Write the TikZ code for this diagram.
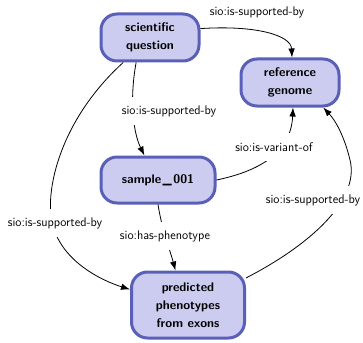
\documentclass[tikz,border=0pt]{standalone}
\usepackage{fontspec}
\usetikzlibrary{arrows.meta}
\definecolor{entline}{RGB}{90,95,184}
\definecolor{entfill}{RGB}{204,204,240}
\begin{document}
\begin{tikzpicture}[x=1pt, y=-1pt,
    ent/.style={draw=entline, fill=entfill, line width=3pt, rounded corners=16pt,
                font=\fontsize{12.5}{18}\selectfont\sffamily\bfseries, align=center},
    rel/.style={fill=white, font=\fontsize{12.5}{15}\selectfont\sffamily,
                minimum height=28pt, inner xsep=2pt},
    >={Latex[length=9pt, width=6.5pt]}]
      \useasboundingbox (0, 0) rectangle (363, 342);
      \draw (150, 37.5) node (sq) [ent, minimum width=98pt, minimum height=47pt] {scientific\\question}
            (290, 82.5) node (rg) [ent, minimum width=98pt, minimum height=47pt] {reference\\genome}
            (158, 180) node (samp) [ent, minimum width=114pt, minimum height=46pt] {sample\kern1.5pt\_\kern1.5pt001}
            (188, 305) node (pred) [ent, minimum width=113pt, minimum height=66pt] {predicted\\phenotypes\\from exons};
      \draw[thick, ->] (sq.10) .. controls (255, 25) and (291, 35) .. ([xshift=2pt]rg.north);
      \draw[thick, ->] (sq.-119) .. controls (130, 95) and (132, 130) .. (samp.119);
      \draw[thick, ->] (sq.-137) .. controls (60, 120) and (45, 190) .. (52, 222)
                       .. controls (60, 260) and (100, 280) .. (pred.165);
      \draw[thick, ->] (samp.east) .. controls (255, 172) and (291, 155) .. ([xshift=3pt]rg.south);
      \draw[thick, ->] (samp.south) .. controls (162, 230) and (170, 250) .. (pred.110);
      \draw[thick, ->] (pred.25) .. controls (310, 245) and (360, 200) .. (350, 160)
                       .. controls (344, 135) and (335, 120) .. (rg.-37);
      % edge labels
      \draw (257, 12) node (l1) [rel] {sio:is-supported-by}
            (169, 111) node (l2) [rel] {sio:is-supported-by}
            (55, 223) node (l3) [rel] {sio:is-supported-by}
            (274, 147) node (l4) [rel] {sio:is-variant-of}
            (165, 236) node (l5) [rel] {sio:has-phenotype}
            (313, 200) node (l6) [rel] {sio:is-supported-by};
\end{tikzpicture}
\end{document}
